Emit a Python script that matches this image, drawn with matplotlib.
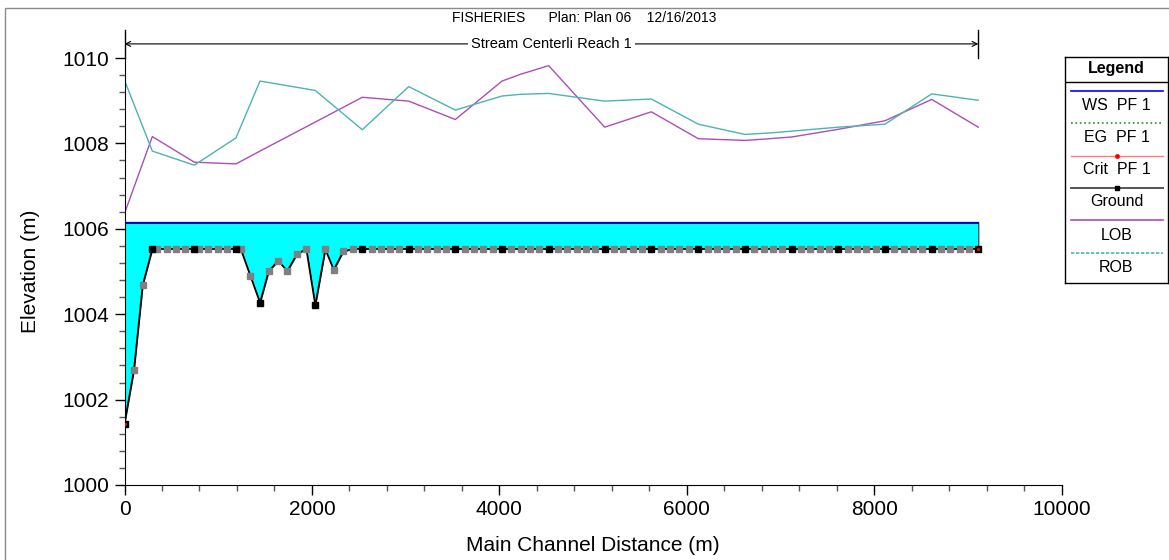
import matplotlib
matplotlib.use('Agg')
import matplotlib.pyplot as plt
from matplotlib.patches import Rectangle
from matplotlib.ticker import MultipleLocator

plt.rcParams['font.family'] = ['Liberation Sans', 'DejaVu Sans']

# surveyed cross sections (black markers)
sec_x = [0, 297, 745, 1190, 1446, 2036, 2538, 3033, 3531, 4029,
         4527, 5125, 5622, 6124, 6622, 7120, 7618, 8116, 8615, 9112]
sec_z = [1001.44, 1005.53, 1005.53, 1005.53, 1004.27, 1004.21, 1005.53, 1005.53, 1005.53, 1005.53,
         1005.53, 1005.53, 1005.53, 1005.53, 1005.53, 1005.53, 1005.53, 1005.53, 1005.53, 1005.53]

# interpolated cross sections (gray markers)
interp_x = [101, 194,
            350, 450, 546, 649,
            795, 894, 998, 1097,
            1240, 1343,
            1539, 1641, 1737, 1838, 1940,
            2143, 2233, 2335, 2435,
            2637, 2736, 2835, 2934,
            3133, 3232, 3332, 3431,
            3631, 3730, 3830, 3929,
            4129, 4228, 4328, 4427,
            4627, 4726, 4826, 4926, 5025,
            5224, 5324, 5423, 5523,
            5722, 5823, 5923, 6024,
            6224, 6323, 6423, 6522,
            6722, 6821, 6921, 7020,
            7220, 7319, 7419, 7518,
            7718, 7817, 7917, 8016,
            8216, 8316, 8415, 8515,
            8714, 8814, 8913, 9013]
interp_z = [1002.70, 1004.68,
            1005.53, 1005.53, 1005.53, 1005.53,
            1005.53, 1005.53, 1005.53, 1005.53,
            1005.53, 1004.90,
            1005.01, 1005.25, 1005.01, 1005.40, 1005.53,
            1005.52, 1005.04, 1005.47, 1005.53,
            1005.53, 1005.53, 1005.53, 1005.53,
            1005.53, 1005.53, 1005.53, 1005.53,
            1005.53, 1005.53, 1005.53, 1005.53,
            1005.53, 1005.53, 1005.53, 1005.53,
            1005.53, 1005.53, 1005.53, 1005.53, 1005.53,
            1005.53, 1005.53, 1005.53, 1005.53,
            1005.53, 1005.53, 1005.53, 1005.53,
            1005.53, 1005.53, 1005.53, 1005.53,
            1005.53, 1005.53, 1005.53, 1005.53,
            1005.53, 1005.53, 1005.53, 1005.53,
            1005.53, 1005.53, 1005.53, 1005.53,
            1005.53, 1005.53, 1005.53, 1005.53,
            1005.53, 1005.53, 1005.53, 1005.53]

ws_x = [0, 9112]
ws_z = [1006.14, 1006.14]
eg_z = [1006.17, 1006.17]
crit_x = [0, 9112]
crit_z = [1001.42, 1005.53]

lob_x = [0, 297, 745, 1190, 1446, 2036, 2538, 3033, 3531, 4029, 4228, 4527,
         5125, 5622, 6124, 6622, 6821, 7120, 7618, 8116, 8615, 9112]
lob_z = [1006.36, 1008.16, 1007.56, 1007.52, 1007.82, 1008.50, 1009.08, 1008.99, 1008.56, 1009.46, 1009.62, 1009.82,
         1008.38, 1008.74, 1008.11, 1008.07, 1008.10, 1008.15, 1008.33, 1008.53, 1009.03, 1008.38]

rob_x = [0, 297, 745, 1190, 1446, 2036, 2538, 3033, 3531, 4029, 4228, 4527, 4826,
         5125, 5622, 6124, 6622, 6921, 7618, 8116, 8615, 9112]
rob_z = [1009.48, 1007.82, 1007.49, 1008.13, 1009.46, 1009.24, 1008.32, 1009.33, 1008.78, 1009.11, 1009.15, 1009.17, 1009.08,
         1008.99, 1009.04, 1008.45, 1008.21, 1008.25, 1008.38, 1008.45, 1009.16, 1009.01]

legend_labels = ['WS  PF 1', 'EG  PF 1', 'Crit  PF 1', 'Ground', 'LOB', 'ROB']

c_lob = '#B04CB8'
c_rob = '#4DB3B3'

# ground = all sections merged in station order
pts = sorted(zip(sec_x + interp_x, sec_z + interp_z))
gx = [p[0] for p in pts]
gz = [p[1] for p in pts]
ws_at_g = [ws_z[0] for _ in gx]

fig = plt.figure(figsize=(11.69, 5.6), dpi=100)
fig.add_artist(Rectangle((0.0043, -0.05), 1.05, 0.9857 + 0.05, transform=fig.transFigure,
                         fill=False, edgecolor='#8a8a8a', lw=1.0))

ax = fig.add_axes([124.5 / 1169, 1 - 485 / 560, 937 / 1169, 427 / 560])

ax.fill_between(gx, gz, ws_at_g, facecolor='#00FFFF', edgecolor='#333333', lw=0.8, zorder=1)
ax.plot(ws_x, eg_z, color='#2E8B57', lw=1.0, zorder=3)
ax.plot(ws_x, ws_z, color='#0000CC', lw=1.4, zorder=3)
ax.plot(gx, gz, color='black', lw=1.2, zorder=4)
ax.plot(interp_x, interp_z, 's', color='#808080', ms=4.0, mec='#808080', zorder=5)
ax.plot(sec_x, sec_z, 's', color='black', ms=4.0, zorder=6)
ax.plot(crit_x, crit_z, 'o', color='red', ms=2.2, mew=0, zorder=7)
ax.plot(lob_x, lob_z, color=c_lob, lw=1.0, zorder=2)
ax.plot(rob_x, rob_z, color=c_rob, lw=1.0, zorder=2)

ax.set_xlim(0, 10000)
ax.set_ylim(1000, 1010)
ax.xaxis.set_major_locator(MultipleLocator(2000))
ax.xaxis.set_minor_locator(MultipleLocator(400))
ax.yaxis.set_major_locator(MultipleLocator(2))
ax.yaxis.set_minor_locator(MultipleLocator(0.4))
ax.tick_params(which='major', direction='out', length=7, width=1, labelsize=15, pad=4)
ax.tick_params(which='minor', direction='out', length=4, width=1, color='#555555')
ax.spines['top'].set_visible(False)
ax.spines['right'].set_visible(False)
ax.set_xlabel('Main Channel Distance (m)', fontsize=15, labelpad=12)
ax.set_ylabel('Elevation (m)', fontsize=15, labelpad=16)

# reach span arrow above the plot
y_arr = 1010.33
ax.annotate('', xy=(0, y_arr), xytext=(ws_x[1], y_arr),
            arrowprops=dict(arrowstyle='<->', lw=0.8, color='black', shrinkA=0, shrinkB=0,
                            mutation_scale=9),
            annotation_clip=False)
ax.plot([0, 0], [1010, 1010.66], color='black', lw=1.0, clip_on=False)
ax.plot([ws_x[1], ws_x[1]], [1010, 1010.66], color='black', lw=1.0, clip_on=False)
ax.text(ws_x[1] / 2, y_arr, 'Stream Centerli Reach 1', ha='center', va='center', fontsize=10.5,
        bbox=dict(facecolor='white', edgecolor='none', pad=2), clip_on=False)

fig.text(0.5, 1 - 18 / 560, 'FISHERIES      Plan: Plan 06    12/16/2013', ha='center', va='center',
         fontsize=10)

# legend box
lax = fig.add_axes([1065 / 1169, 1 - 283 / 560, 103 / 1169, 226 / 560])
lax.set_xlim(0, 103)
lax.set_ylim(226, 0)
lax.set_xticks([])
lax.set_yticks([])
for s in lax.spines.values():
    s.set_linewidth(1.0)
lax.text(51.5, 12, 'Legend', ha='center', va='center', fontsize=11.5, fontweight='bold')
lax.plot([0, 103], [25, 25], color='black', lw=1.0)
line_y = [34, 66, 98.5, 130.5, 163, 195.5]
text_y = [48, 80, 113, 145, 179, 211]
styles = [dict(color='#0000FF', lw=1.2),
          dict(color='#2E8B2E', lw=1.2, ls=':'),
          dict(color='#FF8080', lw=1.0),
          dict(color='#555555', lw=1.4),
          dict(color=c_lob, lw=1.2),
          dict(color=c_rob, lw=1.2, ls=(0, (2, 1)))]
for ly, ty, lab, st in zip(line_y, text_y, legend_labels, styles):
    lax.plot([6, 98], [ly, ly], **st)
    lax.text(51.5, ty, lab, ha='center', va='center', fontsize=11.5)
lax.plot([52], [line_y[2]], 'o', color='red', ms=2.5)
lax.plot([52], [line_y[3]], 's', color='black', ms=3.5)

fig.savefig('out.png', dpi=100)
